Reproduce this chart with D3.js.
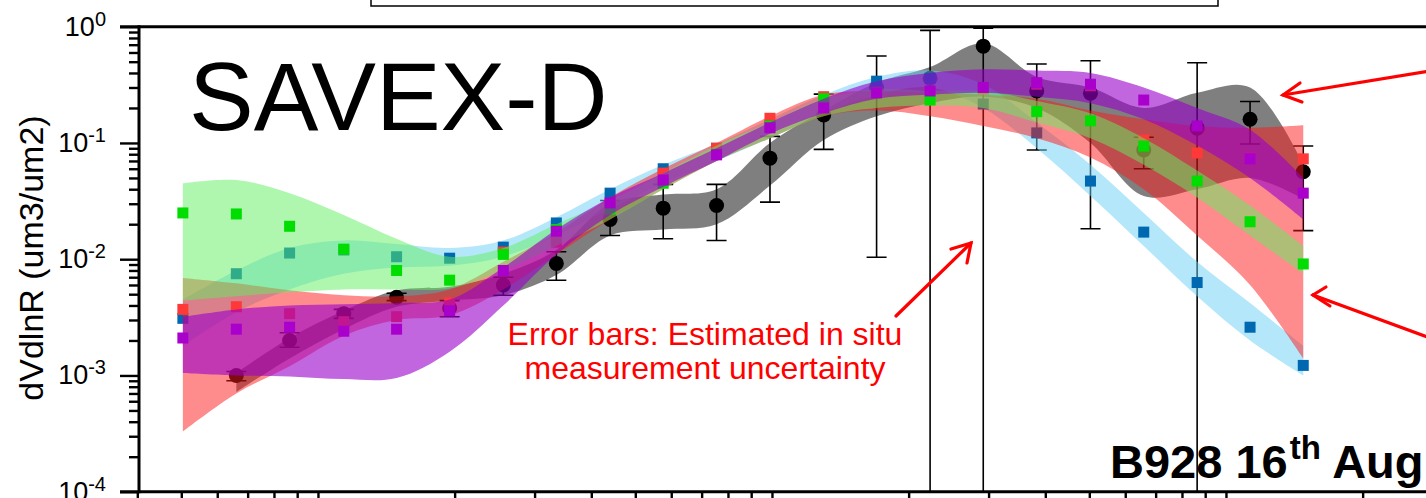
<!DOCTYPE html>
<html><head><meta charset="utf-8">
<script src="https://cdn.jsdelivr.net/npm/d3@7"></script>
<style>body{margin:0;background:#fff;} svg{display:block;} text{font-family:Arial,"Liberation Sans",sans-serif;}</style>
</head><body><svg id="chart" width="1426" height="498"></svg>
<script>
// radius (um) of the size bins
const radius = [0.0504,0.0661,0.0866,0.114,0.149,0.195,0.256,0.335,0.440,0.576,0.755,0.990,1.30,1.70,2.23,2.92,3.83,5.03,6.59,8.64,11.3,14.8];

// in situ measurement (black circles) and error bars
const insitu    = [null,0.0010,0.0020,0.0034,0.0047,0.0038,0.0060,0.0092,0.022,0.0275,0.029,0.074,0.174,0.30,0.36,0.68,0.28,0.268,0.087,0.134,0.16,0.0566];
const insituLo  = [null,0.0009,0.00175,0.0031,0.0044,0.0032,0.0049,0.0066,0.016,0.015,0.0145,0.031,0.088,0.0104,0.00001,0.00001,0.087,0.0183,0.06,0.00001,0.098,0.0176];
const insituHi  = [null,0.00108,0.00233,0.0037,0.0051,0.0044,0.0070,0.0116,0.032,0.044,0.044,0.114,0.263,0.56,0.93,0.97,0.478,0.51,0.112,0.49,0.227,0.094];

// retrieval series (squares)
const bluePts   = [0.0031,0.0075,0.0113,0.012,0.0105,0.0102,0.0127,0.0205,0.037,0.06,0.09,0.14,0.22,0.34,0.36,0.216,0.122,0.047,0.0171,0.0063,0.0026,0.00122];
const greenPts  = [0.025,0.0245,0.0192,0.0122,0.008,0.0066,0.011,0.018,0.027,0.045,0.08,0.14,0.24,0.27,0.234,0.30,0.186,0.155,0.094,0.047,0.021,0.0091];
const redPts    = [0.0037,0.0039,0.0034,0.0029,0.0032,0.0042,0.0115,0.014,0.03,0.055,0.09,0.163,0.25,0.27,0.27,0.29,0.32,0.31,0.106,0.082,0.075,0.073];
const purplePts = [0.0021,0.0025,0.0026,0.0024,0.0025,0.0036,0.0080,0.0174,0.0305,0.048,0.079,0.135,0.20,0.27,0.28,0.30,0.33,0.32,0.234,0.14,0.073,0.037];

// uncertainty envelopes (lower / upper)
const grayLo   = [null,0.00072,0.0014,0.0025,0.0039,0.0044,0.0049,0.0073,0.016,0.018,0.02,0.043,0.106,0.17,0.22,0.25,0.2,0.1,0.035,0.04,0.05,0.033];
const grayHi   = [null,0.00105,0.0021,0.0036,0.0054,0.0058,0.0075,0.012,0.03,0.036,0.04,0.1,0.19,0.33,0.45,0.72,0.37,0.3,0.2,0.27,0.3,0.065];
const blueLo   = [0.0018,0.0035,0.0055,0.0075,0.0085,0.0088,0.0105,0.016,0.027,0.045,0.07,0.11,0.18,0.26,0.3,0.2,0.09,0.035,0.013,0.0048,0.002,0.001];
const blueHi   = [0.0045,0.008,0.0125,0.0145,0.0135,0.0125,0.0145,0.023,0.04,0.065,0.098,0.16,0.26,0.37,0.42,0.32,0.15,0.065,0.025,0.0095,0.0042,0.0018];
const greenLo  = [0.0044,0.0048,0.0052,0.0055,0.0055,0.0056,0.008,0.013,0.022,0.04,0.07,0.11,0.17,0.2,0.21,0.2,0.15,0.11,0.065,0.034,0.016,0.0075];
const greenHi  = [0.045,0.048,0.037,0.024,0.015,0.0105,0.0125,0.02,0.032,0.055,0.095,0.15,0.24,0.29,0.28,0.28,0.23,0.18,0.11,0.058,0.029,0.013];
const redLo    = [0.00033,0.0007,0.0012,0.0022,0.003,0.0033,0.0055,0.011,0.022,0.04,0.07,0.11,0.17,0.19,0.17,0.14,0.11,0.075,0.04,0.016,0.006,0.0014];
const redHi    = [0.0069,0.0062,0.0054,0.0049,0.0048,0.0055,0.0095,0.017,0.034,0.06,0.1,0.17,0.26,0.28,0.27,0.26,0.24,0.19,0.16,0.14,0.135,0.142];
const purpleLo = [0.00105,0.001,0.00098,0.00093,0.00095,0.0016,0.004,0.011,0.024,0.042,0.07,0.12,0.18,0.24,0.26,0.27,0.25,0.22,0.16,0.095,0.05,0.022];
const purpleHi = [0.0032,0.0037,0.004,0.0041,0.0042,0.0045,0.0085,0.018,0.034,0.055,0.09,0.15,0.24,0.34,0.4,0.43,0.42,0.4,0.3,0.2,0.13,0.05];

// axis ticks
const yExponents = [0,-1,-2,-3,-4];

const svg = d3.select("#chart");
const x0 = 137.3, decade = 454;
const xMax = 30;
const x = d3.scaleLog().domain([0.04, xMax]).range([x0, x0 + decade*Math.log10(xMax/0.04)]);
const y = d3.scaleLog().domain([1e-4, 1]).range([491.7, 26.7]);
const pl = 139, pr = x(xMax), pt = y(1), pb = y(1e-4);

svg.append("defs").append("clipPath").attr("id","plotclip")
  .append("rect").attr("x",pl).attr("y",pt).attr("width",pr-pl).attr("height",pb-pt);

// legend box (cropped at top)
svg.append("rect").attr("x",371).attr("y",-30).attr("width",847).attr("height",36)
  .attr("fill","#fff").attr("stroke","#000").attr("stroke-width",1.5);

const plot = svg.append("g").attr("clip-path","url(#plotclip)");

function band(lo, hi, color, op){
  const data = radius.map((r,i)=>({r, lo:lo[i], hi:hi[i]})).filter(d=>d.lo!=null);
  const area = d3.area().x(d=>x(d.r)).y0(d=>y(d.lo)).y1(d=>y(d.hi)).curve(d3.curveCatmullRom.alpha(0.5));
  plot.append("path").datum(data).attr("d",area).attr("fill",color).attr("fill-opacity",op);
}
function squares(vals, color){
  const s = 11;
  plot.append("g").selectAll("rect").data(radius.map((r,i)=>({r,v:vals[i]})).filter(d=>d.v!=null))
    .join("rect").attr("x",d=>x(d.r)-s/2).attr("y",d=>y(d.v)-s/2).attr("width",s).attr("height",s).attr("fill",color);
}

// gray band + in situ
band(grayLo, grayHi, "#000", 0.5);
const ins = radius.map((r,i)=>({r,v:insitu[i],lo:insituLo[i],hi:insituHi[i]})).filter(d=>d.v!=null);
const eb = plot.append("g").attr("stroke","#000").attr("stroke-width",1.6);
ins.forEach(d=>{
  const cx = x(d.r);
  eb.append("line").attr("x1",cx).attr("x2",cx).attr("y1",y(d.hi)).attr("y2",Math.min(y(d.lo),pb+5));
  eb.append("line").attr("x1",cx-10).attr("x2",cx+10).attr("y1",y(d.hi)).attr("y2",y(d.hi));
  if (d.lo>=1e-4) eb.append("line").attr("x1",cx-10).attr("x2",cx+10).attr("y1",y(d.lo)).attr("y2",y(d.lo));
});
plot.append("g").selectAll("circle").data(ins).join("circle")
  .attr("cx",d=>x(d.r)).attr("cy",d=>y(d.v)).attr("r",7.5).attr("fill","#000");

band(blueLo, blueHi, "#6ccff6", 0.5);
squares(bluePts, "#0068b0");
band(redLo, redHi, "#ff1a1a", 0.5);
squares(redPts, "#ff3838");
band(greenLo, greenHi, "#60f060", 0.5);
squares(greenPts, "#00dd00");
band(purpleLo, purpleHi, "#9900cc", 0.6);
squares(purplePts, "#aa00cc");

// axes
const yMinor = [];
for (let k=-4;k<0;k++) for (let m=2;m<=9;m++) yMinor.push(m*Math.pow(10,k));
const yMaj = yExponents.map(e=>Math.pow(10,e));
const styleAxis = g => { g.select(".domain").remove(); g.selectAll("line").attr("stroke","#000").attr("stroke-width",2.4); };
svg.append("g").attr("transform",`translate(${pl},0)`).call(d3.axisLeft(y).tickValues(yMinor).tickSize(10).tickFormat("")).call(styleAxis);
svg.append("g").attr("transform",`translate(${pl},0)`).call(d3.axisLeft(y).tickValues(yMaj).tickSize(19).tickFormat("")).call(styleAxis);

const xTicks = [];
for (let k=-2;k<=1;k++) for (let m=1;m<=9;m++){ const v=m*Math.pow(10,k); if (v>=0.04 && v<=xMax) xTicks.push(v); }
svg.append("g").attr("transform",`translate(0,${pb})`).call(d3.axisBottom(x).tickValues(xTicks).tickSize(12).tickFormat("")).call(styleAxis);

// frame
const frame = svg.append("g").attr("stroke","#000").attr("stroke-width",3).attr("fill","none");
frame.append("line").attr("x1",120).attr("x2",pr).attr("y1",pt).attr("y2",pt);
frame.append("line").attr("x1",120).attr("x2",pr).attr("y1",pb).attr("y2",pb);
frame.append("line").attr("x1",pl).attr("x2",pl).attr("y1",pt-1.5).attr("y2",pb+1.5);

// y tick labels
yExponents.forEach(e=>{
  const t = svg.append("text").attr("x",106).attr("y",y(Math.pow(10,e))+9).attr("text-anchor","end").attr("font-size",27).attr("fill","#000");
  t.append("tspan").text("10");
  t.append("tspan").attr("font-size",20).attr("dy",-10).text(String(e));
});

// y axis title
svg.append("text").attr("transform","translate(43,258) rotate(-90)").attr("text-anchor","middle")
  .attr("font-size",34).attr("fill","#000").text("dVdlnR (um3/um2)");

// panel label
svg.append("text").attr("x",189).attr("y",130).attr("font-size",97).attr("fill","#000").text("SAVEX-D");

// flight label
const fl = svg.append("text").attr("x",1110).attr("y",478).attr("font-size",47).attr("font-weight","bold").attr("fill","#000");
fl.append("tspan").text("B928 16");
fl.append("tspan").attr("font-size",33).attr("dx",2).attr("dy",-19).text("th");
fl.append("tspan").attr("dy",19).text(" Aug");

// annotation
const ann = svg.append("text").attr("text-anchor","middle").attr("font-size",32).attr("fill","#ff0000");
ann.append("tspan").attr("x",705).attr("y",345).text("Error bars: Estimated in situ");
ann.append("tspan").attr("x",705).attr("y",379).text("measurement uncertainty");

const arrows = svg.append("g").attr("stroke","#ff0000").attr("stroke-width",3.2).attr("fill","none").attr("stroke-linecap","round");
arrows.append("line").attr("x1",896).attr("y1",316).attr("x2",971).attr("y2",243);
arrows.append("polyline").attr("points","951,249 971,243 967,263");
arrows.append("line").attr("x1",1430).attr("y1",71).attr("x2",1283).attr("y2",95);
arrows.append("polyline").attr("points","1300,83 1283,95 1302,102");
arrows.append("line").attr("x1",1430).attr("y1",338).attr("x2",1313).attr("y2",295);
arrows.append("polyline").attr("points","1326,287 1313,295 1330,306");
</script></body></html>
